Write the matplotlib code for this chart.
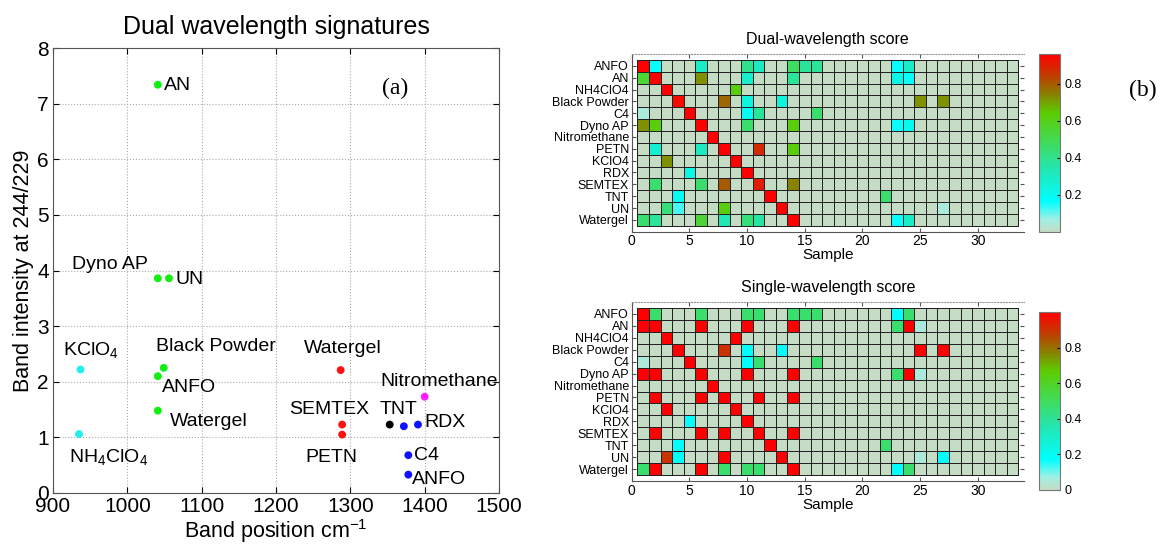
import numpy as np
import matplotlib
matplotlib.use("Agg")
import matplotlib.pyplot as plt
from matplotlib.colors import LinearSegmentedColormap

plt.rcParams['font.family'] = ['Liberation Sans', 'DejaVu Sans']

# ---- panel (a): dual wavelength signatures ----
point_names = ["AN", "Dyno AP", "UN", "Black Powder", "ANFO", "Watergel",
               "KClO4", "NH4ClO4",
               "Watergel", "SEMTEX", "PETN",
               "TNT",
               "", "RDX", "C4", "ANFO",
               "Nitromethane"]
band_pos = [1041, 1041, 1056, 1049, 1041, 1041,
            937, 935,
            1287, 1289, 1289,
            1353,
            1372, 1391, 1378, 1378,
            1400]
band_int = [7.34, 3.86, 3.86, 2.25, 2.10, 1.48,
            2.22, 1.06,
            2.21, 1.23, 1.05,
            1.23,
            1.20, 1.23, 0.68, 0.33,
            1.73]
point_colors = ["#11ee11"] * 6 + ["#22eeee"] * 2 + ["#ff1111"] * 3 + ["black"] + ["#1111ff"] * 4 + ["#ff22ff"]

# text labels drawn next to the points (text, x, y)
label_text = ["AN", "Dyno AP", "UN", r"KClO$_\mathregular{4}$", r"NH$_\mathregular{4}$ClO$_\mathregular{4}$",
              "Black Powder", "ANFO", "Watergel", "Watergel", "Nitromethane",
              "SEMTEX", "TNT", "RDX", "PETN", "C4", "ANFO"]
label_x = [1049, 925, 1065, 914, 921, 1039, 1046, 1057, 1238, 1340, 1217, 1340, 1399, 1240, 1386, 1383]
label_y = [7.33, 4.10, 3.83, 2.55, 0.63, 2.63, 1.89, 1.29, 2.59, 2.01, 1.51, 1.51, 1.26, 0.64, 0.68, 0.24]

# ---- panel (b): score matrices ----
explosives = ["ANFO", "AN", "NH4ClO4", "Black Powder", "C4", "Dyno AP", "Nitromethane",
              "PETN", "KClO4", "RDX", "SEMTEX", "TNT", "UN", "Watergel"]
n_samples = 33

# non-zero cells per explosive: (sample, score)
dual_scores = [
    [(1, 0.96), (2, 0.16), (6, 0.29), (10, 0.40), (11, 0.31), (14, 0.47), (15, 0.38), (16, 0.38), (23, 0.16), (24, 0.29)],
    [(1, 0.55), (2, 0.96), (6, 0.72), (10, 0.28), (14, 0.38), (23, 0.22), (24, 0.16)],
    [(3, 0.96), (9, 0.62)],
    [(4, 0.94), (8, 0.78), (10, 0.24), (13, 0.24), (25, 0.72), (27, 0.72)],
    [(1, 0.05), (5, 0.96), (10, 0.19), (11, 0.38), (16, 0.45)],
    [(1, 0.72), (2, 0.62), (6, 0.96), (10, 0.45), (14, 0.62), (23, 0.16), (24, 0.20)],
    [(7, 0.96)],
    [(2, 0.27), (6, 0.31), (8, 0.96), (11, 0.88), (14, 0.62)],
    [(3, 0.72), (9, 0.96)],
    [(5, 0.22), (10, 0.96)],
    [(2, 0.45), (6, 0.45), (8, 0.80), (11, 0.90), (14, 0.74)],
    [(4, 0.19), (12, 0.96), (22, 0.45)],
    [(3, 0.43), (4, 0.12), (8, 0.62), (13, 0.96), (27, 0.05)],
    [(1, 0.45), (2, 0.38), (6, 0.55), (8, 0.33), (10, 0.43), (11, 0.36), (14, 0.96), (23, 0.16), (24, 0.29)],
]
single_scores = [
    [(1, 1.0), (2, 0.47), (6, 0.47), (10, 0.47), (11, 0.47), (14, 0.47), (15, 0.47), (16, 0.47), (23, 0.17), (24, 0.47)],
    [(1, 1.0), (2, 1.0), (6, 1.0), (10, 1.0), (14, 1.0), (23, 0.47), (24, 1.0), (25, 0.05)],
    [(3, 1.0), (9, 1.0)],
    [(4, 1.0), (8, 0.9), (10, 0.17), (13, 0.17), (25, 1.0), (27, 1.0)],
    [(1, 0.05), (5, 1.0), (10, 0.17), (11, 0.47), (16, 0.47)],
    [(1, 1.0), (2, 1.0), (6, 1.0), (10, 1.0), (14, 1.0), (23, 0.47), (24, 1.0), (25, 0.05)],
    [(7, 1.0)],
    [(2, 1.0), (6, 1.0), (8, 1.0), (11, 1.0), (14, 1.0)],
    [(3, 1.0), (9, 1.0)],
    [(5, 0.17), (10, 1.0)],
    [(2, 1.0), (6, 1.0), (8, 1.0), (11, 1.0), (14, 1.0)],
    [(4, 0.17), (12, 1.0), (22, 0.47)],
    [(3, 0.9), (4, 0.17), (8, 1.0), (13, 1.0), (25, 0.05), (27, 0.17)],
    [(1, 0.47), (2, 1.0), (6, 1.0), (8, 0.47), (10, 0.47), (11, 0.47), (14, 1.0), (23, 0.17), (24, 0.47)],
]


def to_matrix(rows):
    m = np.zeros((len(rows), n_samples))
    for i, cells in enumerate(rows):
        for s, v in cells:
            m[i, s - 1] = v
    return m


score_cmap = LinearSegmentedColormap.from_list("score", [
    (0.00, "#c4dcc4"),
    (0.07, "#a0f0e4"),
    (0.17, "#00ffff"),
    (0.35, "#22e6b4"),
    (0.50, "#40dc5c"),
    (0.67, "#5ccc00"),
    (0.78, "#8a7e00"),
    (0.88, "#c03c00"),
    (1.00, "#ff0000"),
])

W, H = 1162, 548
fig = plt.figure(figsize=(W / 100, H / 100), dpi=100)


def px(left, top, right, bottom):
    return [left / W, 1 - bottom / H, (right - left) / W, (bottom - top) / H]


# ---------- (a) ----------
ax = fig.add_axes(px(53, 48, 499, 493))
ax.scatter(band_pos, band_int, c=point_colors, s=32, zorder=3, linewidths=0)
for t, x, y in zip(label_text, label_x, label_y):
    ax.text(x, y, t, fontsize=14, ha="left", va="center")
ax.text(1343, 7.28, "(a)", fontsize=17, family="Liberation Serif", ha="left", va="center")
ax.set_xlim(900, 1500)
ax.set_ylim(0, 8)
ax.set_xticks(np.arange(900, 1501, 100))
ax.set_yticks(np.arange(0, 9, 1))
ax.grid(True, linestyle=":", color="#aaaaaa", linewidth=0.8)
ax.tick_params(direction="in", top=True, right=True, labelsize=15, length=4, pad=3)
for sp in ax.spines.values():
    sp.set_color("#555555")
ax.set_title("Dual wavelength signatures", fontsize=18, pad=10)
ax.set_xlabel("Band position cm$^{\\mathregular{-1}}$", fontsize=15.5, labelpad=1)
ax.set_ylabel("Band intensity at 244/229", fontsize=15.5, labelpad=2)

# ---------- (b) ----------
panels = [
    ("Dual-wavelength score", to_matrix(dual_scores), 0.0, 0.96, [0.2, 0.4, 0.6, 0.8],
     px(631.7, 54, 1024, 231.7), px(1039.3, 54, 1060, 232)),
    ("Single-wavelength score", to_matrix(single_scores), 0.0, 1.0, [0, 0.2, 0.4, 0.6, 0.8],
     px(631.7, 302, 1024, 481), px(1039.3, 312, 1060, 490)),
]
for title, mat, vmin, vmax, cticks, rect, crect in panels:
    hx = fig.add_axes(rect)
    xe = np.arange(n_samples + 1) + 0.5
    ye = np.arange(len(explosives) + 1) + 0.5
    mesh = hx.pcolormesh(xe, ye, mat, cmap=score_cmap, vmin=vmin, vmax=vmax,
                         edgecolors="#222222", linewidth=0.7)
    hx.set_xlim(0, 34)
    hx.set_ylim(15, 0)
    hx.set_yticks(np.arange(1, len(explosives) + 1))
    hx.set_yticklabels(explosives)
    hx.set_xticks(np.arange(0, 31, 5))
    hx.tick_params(direction="in", labelsize=9, length=3, pad=2, color="#555555",
                   right=True, top=True)
    hx.tick_params(axis="x", labelsize=10)
    hx.spines["top"].set_linestyle(":")
    hx.spines["top"].set_color("#999999")
    hx.spines["right"].set_visible(False)
    hx.spines["left"].set_color("#555555")
    hx.spines["bottom"].set_color("#555555")
    hx.set_title(title, fontsize=11.5, pad=7)
    hx.set_xlabel("Sample", fontsize=11, labelpad=0)

    cx = fig.add_axes(crect)
    cb = fig.colorbar(mesh, cax=cx, ticks=cticks)
    cb.ax.tick_params(labelsize=9, length=2, direction="in")
    cb.ax.set_yticklabels([("%g" % t) for t in cticks])
    cb.outline.set_edgecolor("#777777")

fig.text(1143 / W, 1 - 90 / H, "(b)", fontsize=17, family="Liberation Serif", ha="center", va="center")

fig.savefig("out.png", dpi=100)
